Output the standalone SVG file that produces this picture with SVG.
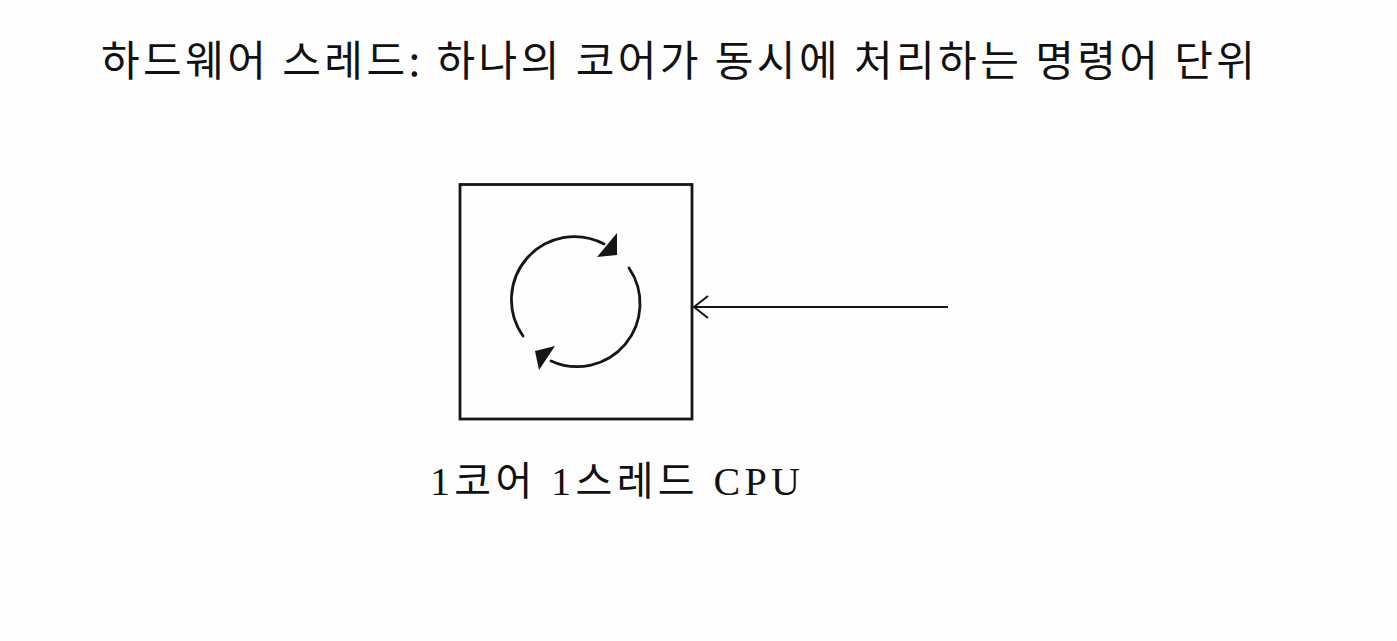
<svg xmlns="http://www.w3.org/2000/svg" width="1397" height="641" viewBox="0 0 1397 641">
<style>
.t{font-family:"Noto Sans CJK KR","Noto Sans",sans-serif;fill:#111}
.s{font-family:"Liberation Serif","Noto Sans CJK KR",serif;fill:#111}
.ln{fill:none;stroke:#151515;stroke-width:2.8;stroke-linecap:round}
.hd{fill:#151515}
</style>
<rect width="1397" height="641" fill="#fefefe"/>
<g id="title">
<text class="t" x="101" y="76" font-size="42" textLength="1154" lengthAdjust="spacing">하드웨어 스레드: 하나의 코어가 동시에 처리하는 명령어 단위</text>
</g>
<g id="cpu">
<rect x="460" y="184.5" width="232" height="234.5" class="ln" stroke-width="2.6"/>
<path class="ln" d="M523,336 A63,63 0 0 1 604,244"/>
<polygon class="hd" points="617,233 597,257 617,255"/>
<path class="ln" d="M629,268 A63,63 0 0 1 551,361"/>
<polygon class="hd" points="535,351 539,370 555,346"/>
<text class="s" x="430" y="495" font-size="40" textLength="370" lengthAdjust="spacing">1코어 1스레드 CPU</text>
</g>
<g id="connectors">
<line x1="948" y1="307" x2="694" y2="307" stroke="#151515" stroke-width="2.2"/>
<path d="M708,296 L694,307 L708,318" fill="none" stroke="#151515" stroke-width="2"/>
</g>
</svg>
